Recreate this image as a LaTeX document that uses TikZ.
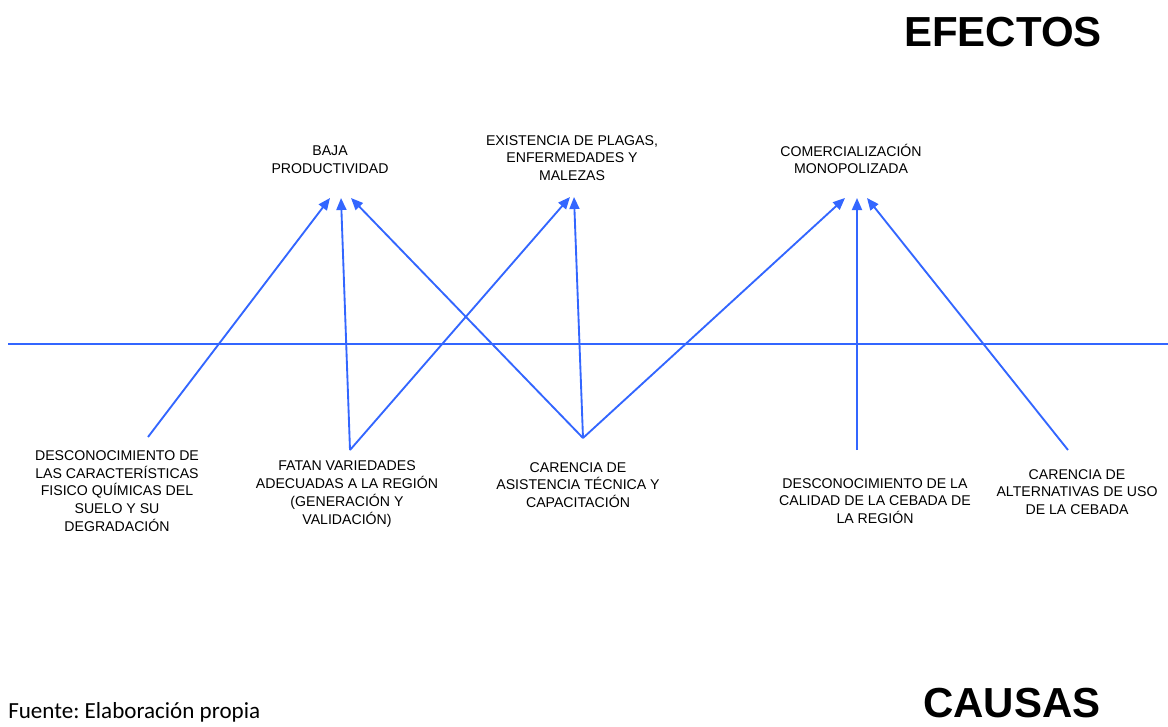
\documentclass[tikz,border=0pt]{standalone}
\usepackage{fontspec}
\setmainfont{Liberation Sans}
\newfontfamily\fuentefont{Carlito}
\usepackage{tikz}
\usetikzlibrary{arrows.meta}
\definecolor{lineablue}{RGB}{51,102,255}
\frenchspacing

\begin{document}
\begin{tikzpicture}[x=0.75pt,y=-0.75pt,
  every node/.style = {align=center, inner sep=0pt,
    font=\fontsize{10.6}{13.3}\selectfont},
  efecto/.style = {},
  causa/.style = {},
  titulo/.style = {font=\fontsize{31.5}{36}\selectfont\bfseries},
  flecha/.style = {draw=lineablue, line width=1.4pt,
    -{Triangle[length=9pt,width=7.5pt]}},
  eje/.style = {draw=lineablue, line width=1.4pt}]
  \useasboundingbox (0,0) rectangle (1168,726);
  \clip (0,0) rectangle (1168,726);

  % titulos
  \node[titulo] (efectos) at (1003,32) {EFECTOS};
  \node[titulo] (causas) at (1012,703) {CAUSAS};
  \node[anchor=base west, font=\fuentefont\fontsize{17.3}{20}\selectfont]
    (fuente) at (8,718) {Fuente: Elaboración propia};

  % linea central
  \coordinate (ejeA) at (8,344);
  \coordinate (ejeB) at (1168,344);
  \draw[eje] (ejeA) -- (ejeB);

  % efectos
  \node[efecto] (baja) at (330,160) {BAJA\\PRODUCTIVIDAD};
  \node[efecto] (plagas) at (572,158) {EXISTENCIA DE PLAGAS,\\ENFERMEDADES Y\\MALEZAS};
  \node[efecto] (comercial) at (851,159) {COMERCIALIZACIÓN\\MONOPOLIZADA};

  % causas
  \node[causa] (suelo) at (117,491) {DESCONOCIMIENTO DE\\LAS CARACTERÍSTICAS\\FISICO QUÍMICAS DEL\\SUELO Y SU\\DEGRADACIÓN};
  \node[causa] (variedades) at (347,494) {FATAN VARIEDADES\\ADECUADAS A LA REGIÓN\\(GENERACIÓN Y\\VALIDACIÓN)};
  \node[causa] (asistencia) at (578,485) {CARENCIA DE\\ASISTENCIA TÉCNICA Y\\CAPACITACIÓN};
  \node[causa] (calidad) at (875,501) {DESCONOCIMIENTO DE LA\\CALIDAD DE LA CEBADA DE\\LA REGIÓN};
  \node[causa] (alternativas) at (1077,492) {CARENCIA DE\\ALTERNATIVAS DE USO\\DE LA CEBADA};

  % puntas y colas
  \coordinate (bajaL) at (330,198);
  \coordinate (bajaM) at (341,198);
  \coordinate (bajaR) at (351,198);
  \coordinate (plagasL) at (570,197);
  \coordinate (plagasM) at (574,197);
  \coordinate (comercialL) at (845,198);
  \coordinate (comercialM) at (857,198);
  \coordinate (comercialR) at (867,198);
  \coordinate (sueloT) at (148,437);
  \coordinate (variedadesT) at (350,450);
  \coordinate (asistenciaT) at (583,438);
  \coordinate (calidadT) at (857,450);
  \coordinate (alternativasT) at (1068,450);

  \draw[flecha] (sueloT) -- (bajaL);
  \draw[flecha] (variedadesT) -- (bajaM);
  \draw[flecha] (asistenciaT) -- (bajaR);
  \draw[flecha] (variedadesT) -- (plagasL);
  \draw[flecha] (asistenciaT) -- (plagasM);
  \draw[flecha] (asistenciaT) -- (comercialL);
  \draw[flecha] (calidadT) -- (comercialM);
  \draw[flecha] (alternativasT) -- (comercialR);
\end{tikzpicture}
\end{document}
